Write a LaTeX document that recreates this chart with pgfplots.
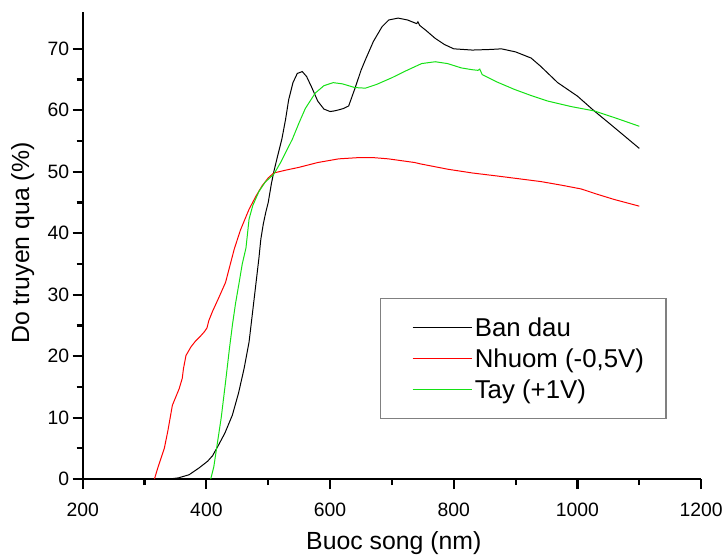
\documentclass[border=0pt]{standalone}
\usepackage{fontspec}
\setmainfont{Liberation Sans}
\usepackage{pgfplots}
\pgfplotsset{compat=1.18}
\definecolor{tgreen}{RGB}{20,225,20}
\pgfplotsset{
  legend image code/.code={%
    \path (-12bp,0bp);
    \draw[#1, line width=1bp] (0bp,0bp) -- (60bp,0bp);},
}

\begin{document}
\begin{tikzpicture}
\begin{axis}[
  scale only axis,
  width=621bp, height=469bp,
  xmin=200, xmax=1200, ymin=0, ymax=76,
  axis lines=left,
  axis line style={-, line width=2.2bp},
  xtick={200,400,...,1200},
  ytick={0,10,...,70},
  minor x tick num=1,
  minor y tick num=1,
  tick align=outside,
  major tick length=10bp, minor tick length=6bp,
  tick style={black, line width=2.2bp},
  /pgf/number format/assume math mode=true,
  /pgf/number format/1000 sep={},
  tick label style={font=\fontsize{19.5}{23}\selectfont},
  xticklabel style={yshift=-11bp},
  xlabel={Buoc song (nm)},
  ylabel={Do truyen qua (\%)},
  label style={font=\fontsize{25}{30}\selectfont},
  xlabel style={at={(axis description cs:0.503,-0.1507)}, anchor=base},
  ylabel style={at={(axis description cs:-0.097,0.505)}, anchor=center},
  legend cell align=left,
  legend style={at={(axis description cs:0.48,0.388)}, anchor=north west,
    draw=gray, line width=1.3bp, font=\fontsize{26}{30}\selectfont,
    inner xsep=20bp, inner ysep=17bp, row sep=7bp},
  clip=false,
]
% Ban dau
\addplot[black, line width=1bp] coordinates {
  (340,0) (355,0.2) (372,0.7) (388,1.8) (402,2.9) (410,3.8) (420,5.6)
  (430,7.5) (442,10.4) (452,14) (461,18) (469,22.3) (478,30) (485,36)
  (488,39) (492,41.5) (496,43.4) (500,45) (505,48) (509,50) (515,52.5)
  (522,55.3) (528,58.5) (533,61.7) (540,64.5) (547,66) (555,66.3)
  (562,65.5) (570,63.8) (580,61.5) (590,60.2) (600,59.8) (607,59.9)
  (615,60.1) (622,60.3) (630,60.7) (640,63.5) (650,66.5) (657,68.2)
  (670,71.2) (684,73.6) (695,74.7) (710,75.0) (725,74.7) (735,74.3)
  (740,74.1) (742,74.4) (745,73.8) (755,73) (770,71.7) (785,70.7)
  (800,70.0) (830,69.8) (860,69.9) (877,70.0) (900,69.5) (925,68.5)
  (940,67.2) (968,64.5) (1000,62.3) (1027,59.9) (1050,58) (1075,55.9)
  (1100,53.8)
};
\addlegendentry{Ban dau}
% Nhuom (-0,5V)
\addplot[red, line width=1bp] coordinates {
  (316,0) (322,2) (332,5) (338,8) (345,12) (356,14.7) (361,16.4)
  (363,18) (367,20.1) (375,21.5) (382,22.4) (390,23.2) (397,24)
  (401,24.6) (404,25.8) (410,27.3) (420,29.5) (431,32) (445,37.4)
  (455,40.5) (469,43.9) (480,46) (490,47.7) (500,49) (509,49.8)
  (530,50.3) (549,50.7) (580,51.5) (614,52.1) (646,52.3) (670,52.3)
  (694,52.1) (737,51.5) (745,51.3) (791,50.4) (830,49.8) (871,49.3)
  (941,48.4) (975,47.8) (1006,47.2) (1030,46.4) (1059,45.5) (1100,44.4)
};
\addlegendentry{Nhuom (-0,5V)}
% Tay (+1V)
\addplot[tgreen, line width=1bp] coordinates {
  (407,0) (412,2) (418,6) (424,10) (431,15.8) (437,21) (442,25)
  (447,28.5) (453,32) (458,35) (464,37.6) (469,42.3) (475,44.5)
  (485,46.8) (495,48.3) (509,49.6) (520,51.5) (530,53.5) (539,55.3)
  (550,58) (560,60.3) (576,62.8) (590,64) (605,64.5) (620,64.3)
  (640,63.7) (657,63.6) (675,64.2) (700,65.3) (720,66.3) (748,67.6)
  (770,67.9) (790,67.6) (812,66.9) (830,66.6) (839,66.5) (842,66.7)
  (846,65.8) (870,64.6) (898,63.4) (925,62.4) (952,61.5) (990,60.6)
  (1027,59.9) (1060,58.8) (1100,57.4)
};
\addlegendentry{Tay (+1V)}
\path (rel axis cs:-0.1337,-0.1684) (rel axis cs:1.0354,1.0256);
\end{axis}
\end{tikzpicture}
\end{document}
